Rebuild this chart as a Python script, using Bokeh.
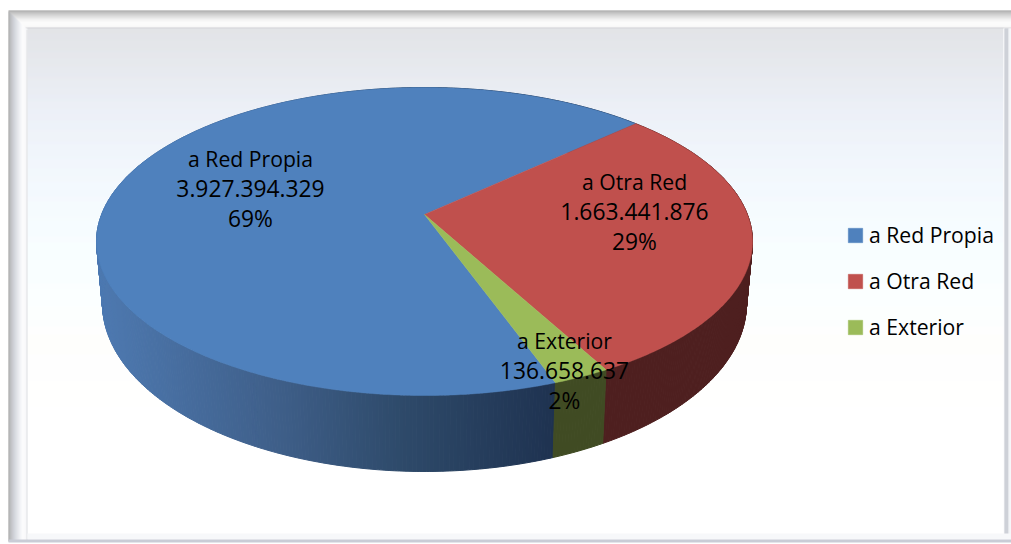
import math
from bokeh.plotting import figure
from bokeh.models import Range1d, Legend, LegendItem
from bokeh.core.properties import value
from bokeh.embed import file_html
from bokeh.resources import INLINE

categories = ["a Red Propia", "a Otra Red", "a Exterior"]
values = [3927394329, 1663441876, 136658637]
value_labels = ["3.927.394.329", "1.663.441.876", "136.658.637"]
percent_labels = ["69%", "29%", "2%"]
top_colors = ["#4f81bd", "#c0504d", "#9bbb59"]
wall_colors = [None, "#4e1f1f", "#404b23"]
blue_wall_stops = [(90, (78, 122, 178)), (280, (62, 94, 136)), (400, (46, 74, 106)), (556, (30, 50, 80))]

FONT = "Open Sans"
W, H = 1011, 544

p = figure(width=W, height=H, x_range=Range1d(0, W), y_range=Range1d(H, 0),
           output_backend="svg", toolbar_location=None, min_border=0, outline_line_color=None,
           background_fill_color="white", border_fill_color="white")
p.axis.visible = False
p.grid.visible = False


def lerp(stops, t):
    if t <= stops[0][0]:
        return stops[0][1]
    for (a, ca), (b, cb) in zip(stops, stops[1:]):
        if t <= b:
            f = (t - a) / (b - a)
            return tuple(int(round(ca[i] + (cb[i] - ca[i]) * f)) for i in range(3))
    return stops[-1][1]


def hexc(c):
    return "#%02x%02x%02x" % tuple(c)


# panel background
bg_stops = [(26, (216, 218, 223)), (60, (222, 225, 231)), (110, (230, 235, 245)), (170, (238, 245, 252)),
            (230, (244, 252, 255)), (300, (250, 255, 255)), (340, (254, 254, 252)), (420, (255, 255, 255)), (544, (255, 255, 255))]
ys = list(range(27, 535))
p.quad(left=27, right=1003, top=ys, bottom=[y + 1 for y in ys],
       fill_color=[hexc(lerp(bg_stops, y)) for y in ys], line_color=None)

# bevelled frame
top_bevel = [(10, (150, 150, 150)), (12, (175, 175, 175)), (15, (205, 205, 205)), (19, (240, 240, 240)), (22, (252, 252, 252)), (26, (246, 246, 246)), (27, (214, 214, 218))]
for y in range(10, 28):
    p.quad(left=8 + (y - 10), right=1011, top=y, bottom=y + 1, fill_color=hexc(lerp(top_bevel, y)), line_color=None)
left_bevel = [(8, (150, 150, 150)), (10, (170, 172, 176)), (14, (200, 204, 212)), (19, (235, 237, 242)), (22, (252, 252, 252)), (25, (245, 246, 248)), (26, (220, 222, 226)), (27, (235, 238, 242))]
for x in range(8, 27):
    p.quad(left=x, right=x + 1, top=10 + (x - 8) + 1, bottom=541, fill_color=hexc(lerp(left_bevel, x)), line_color=None)
right_bevel = [(1003, (250, 250, 252)), (1004, (190, 194, 204)), (1007, (190, 194, 204)), (1008, (235, 237, 242)), (1011, (250, 250, 252))]
for x in range(1003, 1011):
    p.quad(left=x, right=x + 1, top=28, bottom=535, fill_color=hexc(lerp(right_bevel, x)), line_color=None)
p.quad(left=27, right=1011, top=533, bottom=539, fill_color="#f7f8fa", line_color=None)
p.quad(left=8, right=1011, top=539, bottom=542, fill_color="#c9ccd6", line_color=None)

# perspective pie: top and bottom rims
CX = 424
K = 27 / 154
TOP = (328 * math.sqrt(1 - K * K), 154 * (1 - K * K), 214)
BOT = (322 * math.sqrt(1 - K * K), 168 * (1 - K * K), 303 - 168 * K)
START = 160.2


def rim(theta, rimdef):
    a, b, apex = rimdef
    t = math.radians(theta)
    u, v = math.sin(t), math.cos(t)
    d = 1 + K * v
    return CX + a * u / d, apex - b * v / d


total = sum(values)
edges = [START]
for val in values:
    edges.append(edges[-1] + 360 * val / total)


def steps(a, b, n_per_deg=2):
    n = max(2, int((b - a) * n_per_deg))
    return [a + (b - a) * i / n for i in range(n + 1)]


# side walls
for i in range(3):
    ts = steps(edges[i], edges[i + 1], 2)
    xs, yy, cols = [], [], []
    for a, b in zip(ts, ts[1:]):
        ax, ay = rim(a, TOP)
        bx, by = rim(b, TOP)
        cx, cy = rim(b, BOT)
        dx, dy = rim(a, BOT)
        xs.append([ax, bx, cx, dx])
        yy.append([ay, by, cy, dy])
        cols.append(wall_colors[i] or hexc(lerp(blue_wall_stops, (ax + bx) / 2)))
    p.patches(xs, yy, fill_color=cols, line_color=cols, line_width=1)

# top surface
renderers = []
for i in range(3):
    ts = steps(edges[i], edges[i + 1])
    pts = [rim(t, TOP) for t in ts]
    xs = [CX] + [q[0] for q in pts]
    yy = [TOP[2]] + [q[1] for q in pts]
    renderers.append(p.patch(xs, yy, fill_color=top_colors[i], line_color=top_colors[i], line_width=0.5))

# data labels
label_x = [250, 634, 564]
label_y = [158, 181, 340]
LINE = 30
sizes = ["21.2px", "22.8px", "22.8px"]
for i in range(3):
    lines = [categories[i], value_labels[i], percent_labels[i]]
    for j in range(3):
        p.text([label_x[i]], [label_y[i] + LINE * j], text=[lines[j]],
               text_font=value(FONT), text_font_size=value(sizes[j]), text_color="#000000",
               text_align="center", text_baseline="middle")

legend = Legend(items=[LegendItem(label=categories[i], renderers=[renderers[i]]) for i in range(3)],
                location=(846, 203), orientation="vertical", background_fill_alpha=0, border_line_alpha=0,
                glyph_width=18, glyph_height=18, label_standoff=5, padding=0, margin=0, spacing=17,
                label_height=18, label_text_font=FONT, label_text_font_size="21.2px", label_text_color="#000000",
                label_text_baseline="middle")
p.add_layout(legend, "center")

open("out.html", "w").write(file_html(p, INLINE))
